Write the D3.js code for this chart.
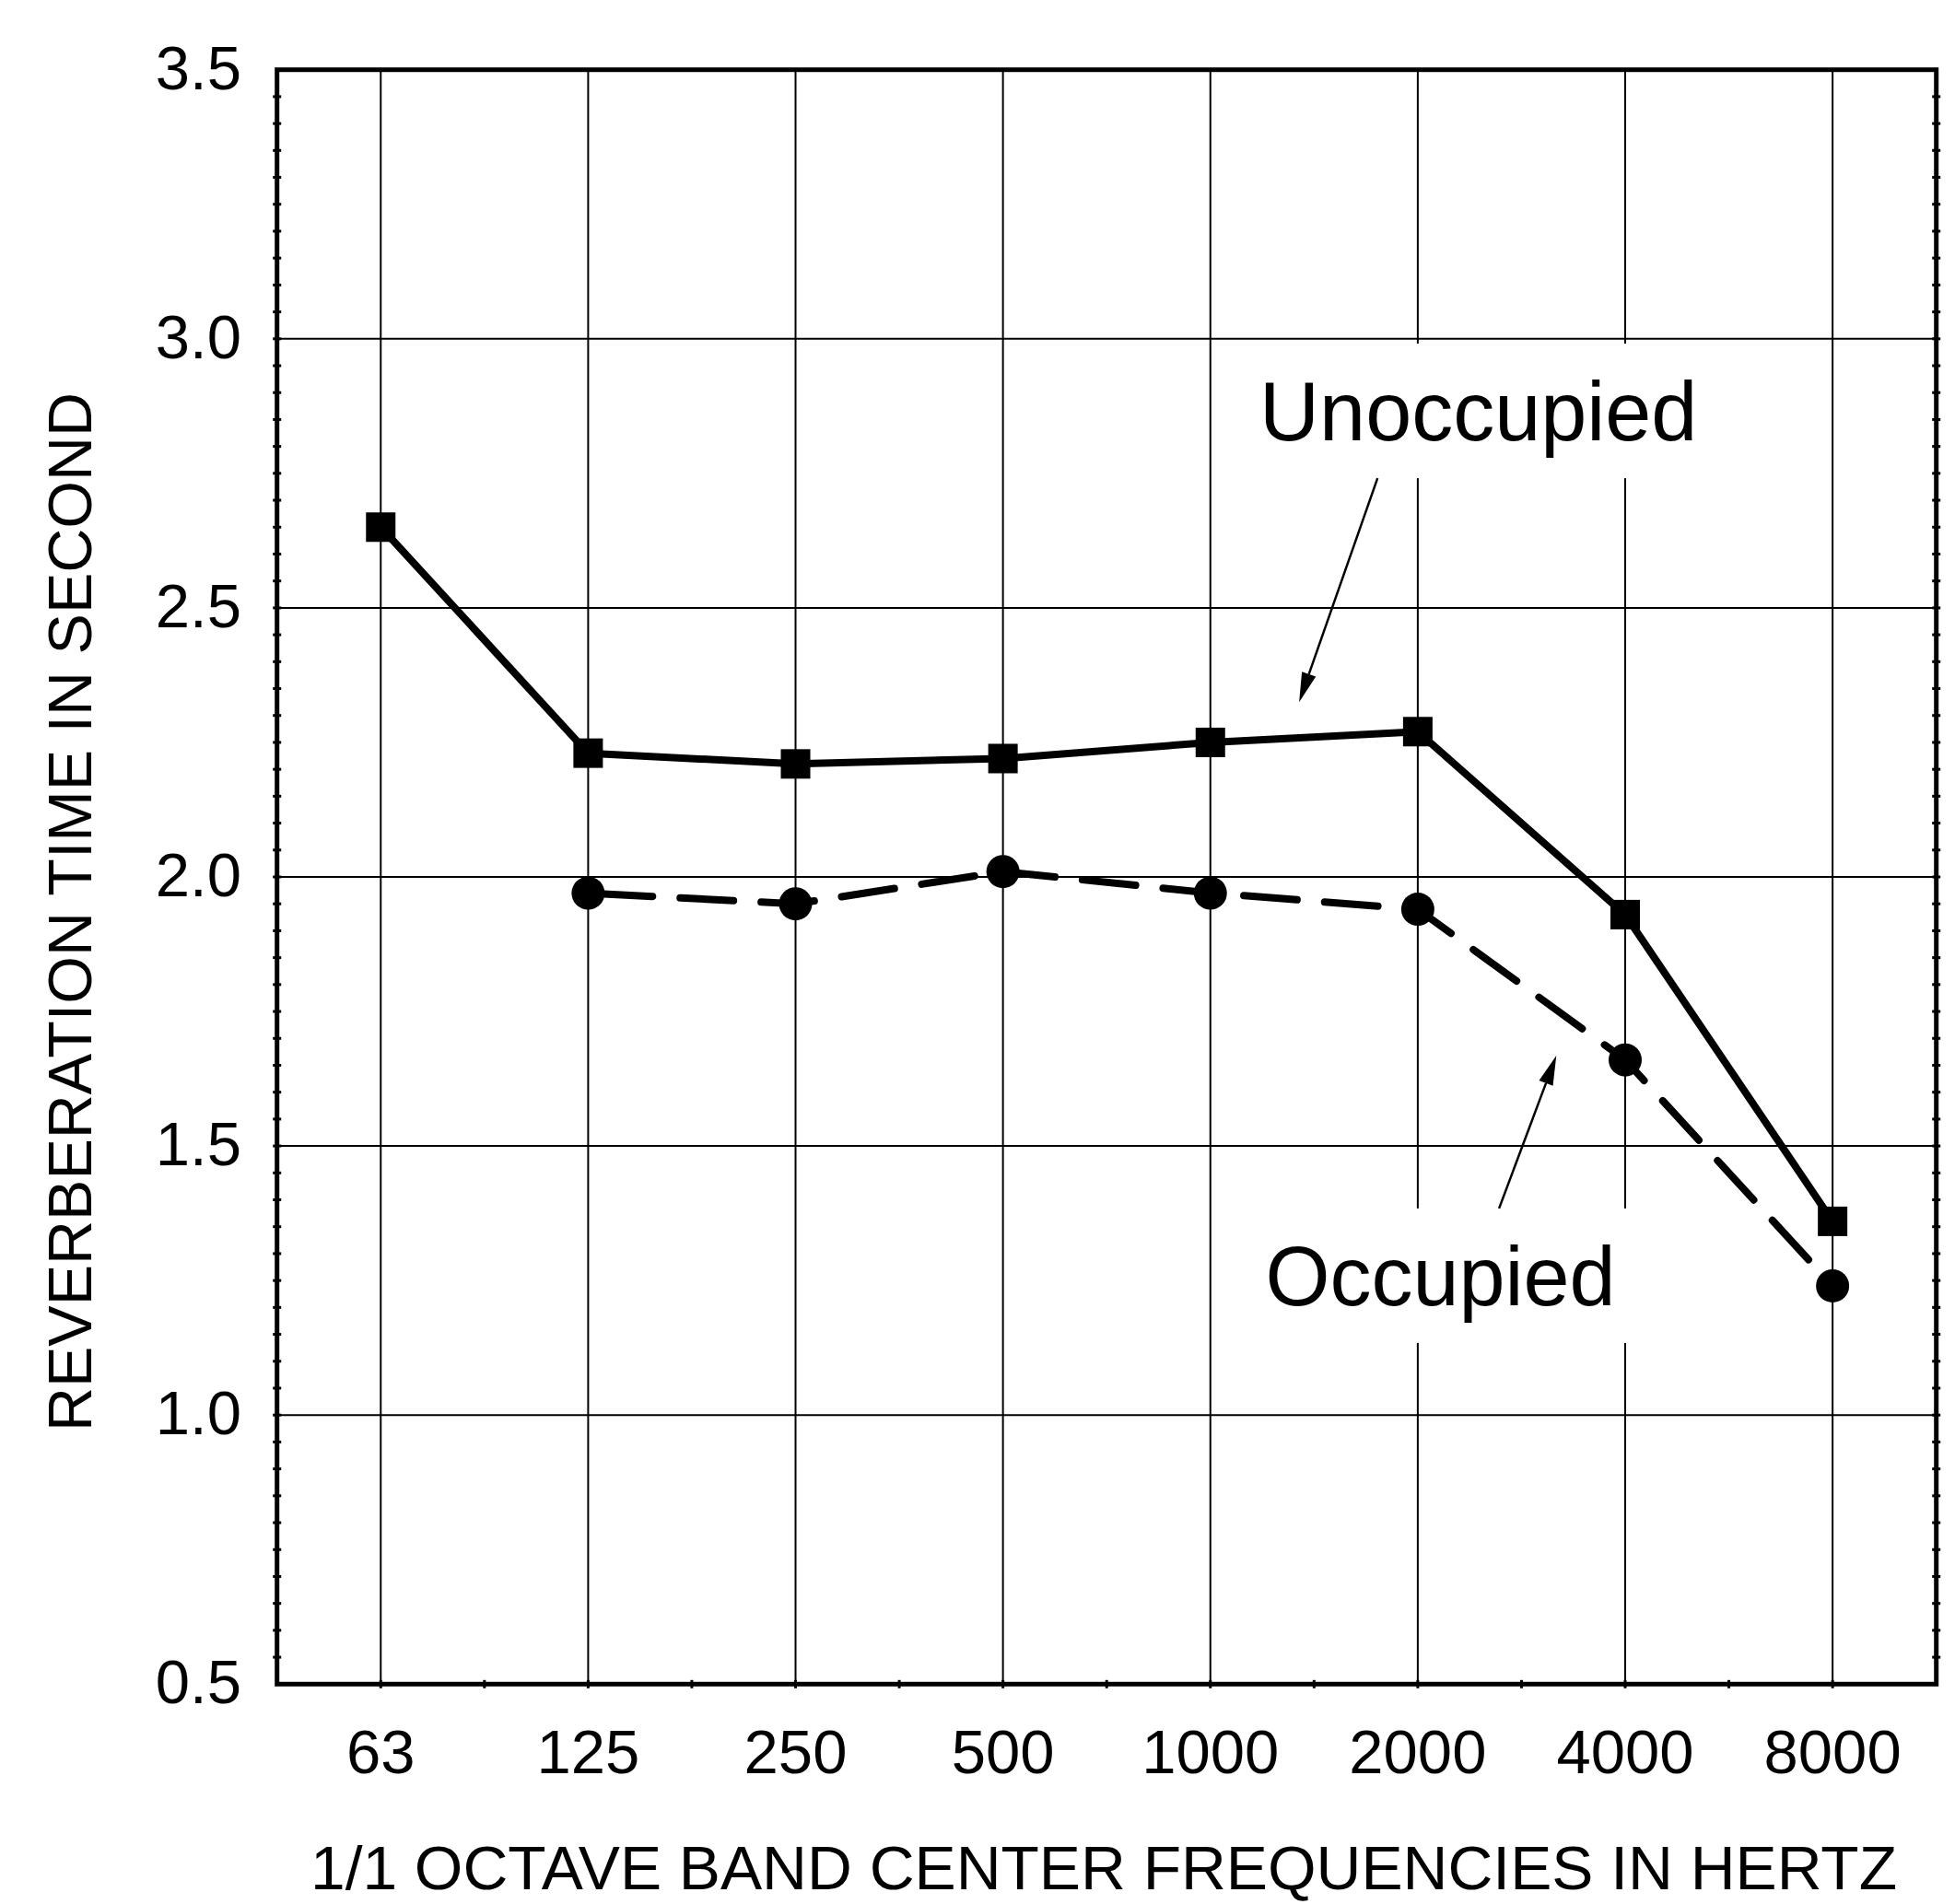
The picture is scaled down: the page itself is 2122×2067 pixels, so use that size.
<!DOCTYPE html>
<html>
<head>
<meta charset="utf-8">
<script src="https://cdn.jsdelivr.net/npm/d3@7"></script>
<style>
  html, body { margin: 0; padding: 0; background: #fff; }
  svg { display: block; }
  text { font-family: "Liberation Sans", Arial, sans-serif; fill: #000; }
</style>
</head>
<body>
<svg id="chart" width="2122" height="2067"></svg>
<script>
// ---- data ----
const categories = ["63", "125", "250", "500", "1000", "2000", "4000", "8000"];
const unoccupied = [2.65, 2.23, 2.21, 2.22, 2.25, 2.27, 1.93, 1.36];
const occupied   = [null, 1.97, 1.95, 2.01, 1.97, 1.94, 1.66, 1.24];
const yTicks = [0.5, 1.0, 1.5, 2.0, 2.5, 3.0, 3.5];
const yTickLabels = ["0.5", "1.0", "1.5", "2.0", "2.5", "3.0", "3.5"];
const xTitle = "1/1 OCTAVE BAND CENTER FREQUENCIES IN HERTZ";
const yTitle = "REVERBERATION TIME IN SECOND";
// annotations (positions in category-index / value units)
const annoLabels = ["Unoccupied", "Occupied"];
const annoText = [[4.237, 2.811], [4.265, 1.2046]];
const annoArrowFrom = [[4.806, 2.741], [5.392, 1.384]];
const annoArrowTo = [[4.428, 2.325], [5.668, 1.668]];
const annoBox = [[4.073, 6.383, 2.741, 2.991], [4.073, 6.161, 1.134, 1.384]];

// ---- layout ----
const L = 300.7, R = 2101.7, T = 75.7, B = 1828.3;
const svg = d3.select("#chart");

const x = d3.scalePoint().domain(categories).range([L, R]).padding(0.5);
const y = d3.scaleLinear().domain([0.5, 3.5]).range([B, T]);
const step = x.step();
const xi = i => x(categories[0]) + i * step;

// grid
const g = svg.append("g");
g.selectAll("line.hg").data(yTicks.slice(1, -1)).enter().append("line")
  .attr("x1", L).attr("x2", R).attr("y1", d => y(d)).attr("y2", d => y(d))
  .attr("stroke", "#000").attr("stroke-width", 2);
g.selectAll("line.vg").data(categories).enter().append("line")
  .attr("x1", d => x(d)).attr("x2", d => x(d)).attr("y1", T).attr("y2", B)
  .attr("stroke", "#000").attr("stroke-width", 2);

// white boxes behind labels
svg.selectAll("rect.box").data(annoBox).enter().append("rect")
  .attr("x", d => xi(d[0])).attr("width", d => xi(d[1]) - xi(d[0]))
  .attr("y", d => y(d[3])).attr("height", d => y(d[2]) - y(d[3]))
  .attr("fill", "#fff");

// minor ticks
const minorY = d3.range(0.55, 3.5, 0.05).map(v => +v.toFixed(2));
svg.selectAll("line.ml").data(minorY).enter().append("line")
  .attr("x1", L - 4.5).attr("x2", L + 4.5).attr("y1", d => y(d)).attr("y2", d => y(d))
  .attr("stroke", "#000").attr("stroke-width", 3);
svg.selectAll("line.mr").data(minorY).enter().append("line")
  .attr("x1", R - 4.5).attr("x2", R + 4.5).attr("y1", d => y(d)).attr("y2", d => y(d))
  .attr("stroke", "#000").attr("stroke-width", 3);
svg.selectAll("line.mb").data(d3.range(0, categories.length - 1)).enter().append("line")
  .attr("x1", d => xi(d + 0.5)).attr("x2", d => xi(d + 0.5)).attr("y1", B - 4.5).attr("y2", B + 4.5)
  .attr("stroke", "#000").attr("stroke-width", 3);
svg.selectAll("line.mbx").data(categories).enter().append("line")
  .attr("x1", d => x(d)).attr("x2", d => x(d)).attr("y1", B - 4.5).attr("y2", B + 4.5)
  .attr("stroke", "#000").attr("stroke-width", 3);

// frame
svg.append("rect").attr("x", L).attr("y", T).attr("width", R - L).attr("height", B - T)
  .attr("fill", "none").attr("stroke", "#000").attr("stroke-width", 5);

// y tick labels
svg.selectAll("text.yt").data(yTicks).enter().append("text")
  .attr("x", 262).attr("y", d => y(d) + 21)
  .attr("text-anchor", "end").attr("font-size", 67)
  .text((d, i) => yTickLabels[i]);

// x tick labels
svg.selectAll("text.xt").data(categories).enter().append("text")
  .attr("x", d => x(d)).attr("y", 1925)
  .attr("text-anchor", "middle").attr("font-size", 67)
  .text(d => d);

// axis titles
svg.append("text").attr("x", 337).attr("y", 2051)
  .attr("font-size", 66).attr("textLength", 1722).attr("lengthAdjust", "spacingAndGlyphs")
  .text(xTitle);
svg.append("text")
  .attr("transform", "translate(98.5,990) rotate(-90)")
  .attr("text-anchor", "middle").attr("font-size", 67)
  .attr("textLength", 1128).attr("lengthAdjust", "spacingAndGlyphs")
  .text(yTitle);

// series lines
const lineU = d3.line().x((d, i) => x(categories[i])).y(d => y(d));
svg.append("path").datum(unoccupied).attr("d", lineU)
  .attr("fill", "none").attr("stroke", "#000").attr("stroke-width", 8).attr("stroke-linejoin", "round");

const occPts = occupied.map((v, i) => ({ c: categories[i], v })).filter(d => d.v != null);
const lineO = d3.line().x(d => x(d.c)).y(d => y(d.v));
svg.append("path").datum(occPts).attr("d", lineO)
  .attr("fill", "none").attr("stroke", "#000").attr("stroke-width", 8)
  .attr("stroke-dasharray", "58,30").attr("stroke-dashoffset", -12).attr("stroke-linecap", "round");

// markers
const sq = 32;
svg.selectAll("rect.sq").data(unoccupied).enter().append("rect")
  .attr("x", (d, i) => x(categories[i]) - sq / 2).attr("y", d => y(d) - sq / 2)
  .attr("width", sq).attr("height", sq).attr("fill", "#000");
svg.selectAll("circle.ci").data(occPts).enter().append("circle")
  .attr("cx", d => x(d.c)).attr("cy", d => y(d.v)).attr("r", 18).attr("fill", "#000");

// annotation labels
svg.selectAll("text.an").data(annoLabels).enter().append("text")
  .attr("x", (d, i) => xi(annoText[i][0])).attr("y", (d, i) => y(annoText[i][1]))
  .attr("font-size", 90).text(d => d);

// arrows
annoLabels.forEach((lab, i) => {
  const x0 = xi(annoArrowFrom[i][0]), y0 = y(annoArrowFrom[i][1]);
  const x1 = xi(annoArrowTo[i][0]), y1 = y(annoArrowTo[i][1]);
  const dx = x1 - x0, dy = y1 - y0, len = Math.hypot(dx, dy);
  const ux = dx / len, uy = dy / len;
  const hl = 32, hw = 8;
  const bx = x1 - ux * hl, by = y1 - uy * hl;
  svg.append("line").attr("x1", x0).attr("y1", y0).attr("x2", bx).attr("y2", by)
    .attr("stroke", "#000").attr("stroke-width", 2.5);
  svg.append("polygon")
    .attr("points", [[x1, y1], [bx - uy * hw, by + ux * hw], [bx + uy * hw, by - ux * hw]].map(p => p.join(",")).join(" "))
    .attr("fill", "#000");
});
</script>
</body>
</html>
